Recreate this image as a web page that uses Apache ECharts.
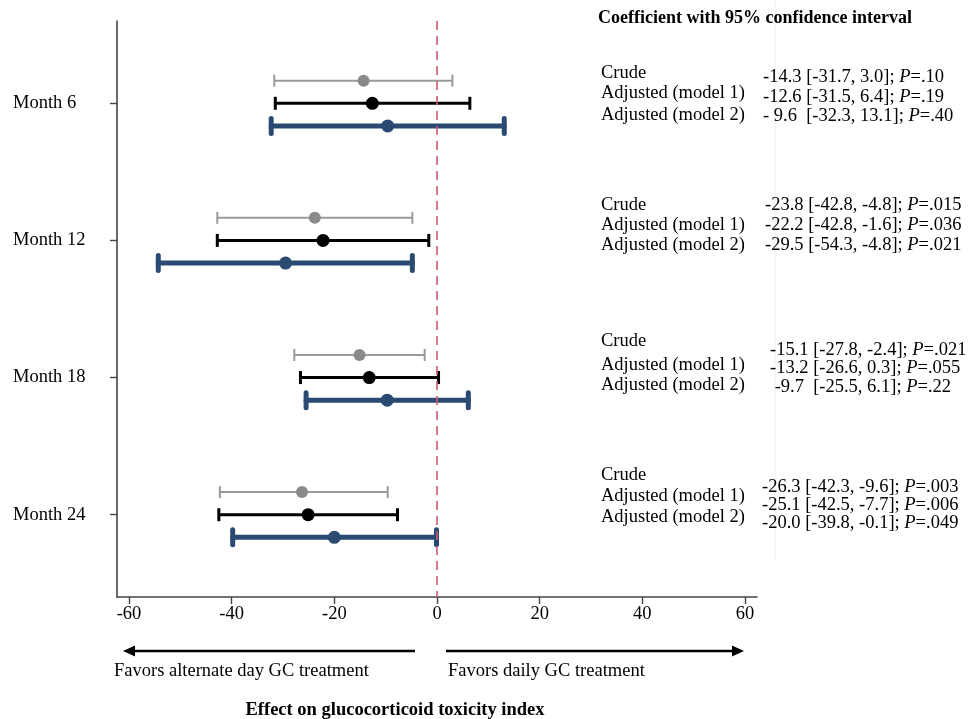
<!DOCTYPE html>
<html><head><meta charset="utf-8">
<script src="https://cdn.jsdelivr.net/npm/echarts@6/dist/echarts.min.js"></script>
<style>html,body{margin:0;padding:0;background:#fff}#c{width:974px;height:719px}</style>
</head><body><div id="c"></div>
<script>
// ---- data ----
const months = ['Month 6', 'Month 12', 'Month 18', 'Month 24'];
const models = ['Crude', 'Adjusted (model 1)', 'Adjusted (model 2)'];
const xTicks = [-60, -40, -20, 0, 20, 40, 60];
const crudeCoef = [-14.3, -23.8, -15.1, -26.3];
const crudeLo   = [-31.7, -42.8, -27.8, -42.3];
const crudeHi   = [3.0, -4.8, -2.4, -9.6];
const crudeP    = ['.10', '.015', '.021', '.003'];
const m1Coef = [-12.6, -22.2, -13.2, -25.1];
const m1Lo   = [-31.5, -42.8, -26.6, -42.5];
const m1Hi   = [6.4, -1.6, 0.3, -7.7];
const m1P    = ['.19', '.036', '.055', '.006'];
const m2Coef = [-9.6, -29.5, -9.7, -20.0];
const m2Lo   = [-32.3, -54.3, -25.5, -39.8];
const m2Hi   = [13.1, -4.8, 6.1, -0.1];
const m2P    = ['.40', '.021', '.22', '.049'];
const headerText = 'Coefficient with 95% confidence interval';
const leftArrowText = 'Favors alternate day GC treatment';
const rightArrowText = 'Favors daily GC treatment';
const xTitle = 'Effect on glucocorticoid toxicity index';

// ---- layout / style (not data) ----
const FONT = '"Liberation Serif", "Times New Roman", serif';
const FS = 18.5;
const styles = [
  {line: '#9a9a9a', dot: '#8a8a8a', lw: 2, capW: 2, cap: 12, size: 12, off: -0.165},
  {line: '#000000', dot: '#000000', lw: 3, capW: 3, cap: 13, size: 13, off: 0},
  {line: '#2a4a72', dot: '#2a4a72', lw: 5, capW: 5, cap: 15, size: 13, off: 0.165}
];
const labelY = [[73, 93, 115], [205, 225.5, 245.5], [341.5, 365, 385.5], [475, 496.5, 517.5]];
const valueY = [[77.5, 97.5, 116.5], [205, 225.5, 245.5], [350, 368.5, 387.5], [487.5, 505.5, 523.5]];
const valueX = [763, 765, 770, 762];
const labelX = 601;

const groups = [
  {coef: crudeCoef, lo: crudeLo, hi: crudeHi, p: crudeP},
  {coef: m1Coef, lo: m1Lo, hi: m1Hi, p: m1P},
  {coef: m2Coef, lo: m2Lo, hi: m2Hi, p: m2P}
];

function fmt(v) { return v.toFixed(1); }

const series = [];
groups.forEach((g, m) => {
  const st = styles[m];
  series.push({
    type: 'custom',
    name: models[m] + ' CI',
    silent: true,
    z: 2,
    data: months.map((_, i) => [g.lo[i], g.hi[i], g.coef[i], i + st.off]),
    encode: {x: [0, 1], y: 3},
    renderItem: (params, api) => {
      const y = api.value(3);
      const a = api.coord([api.value(0), y]);
      const b = api.coord([api.value(1), y]);
      const h = st.cap / 2;
      const s = {stroke: st.line, lineWidth: st.lw, lineCap: m === 2 ? 'round' : 'butt'};
      const c = {stroke: st.line, lineWidth: st.capW, lineCap: m === 2 ? 'round' : 'butt'};
      return {type: 'group', children: [
        {type: 'line', shape: {x1: a[0], y1: a[1], x2: b[0], y2: b[1]}, style: s},
        {type: 'line', shape: {x1: a[0], y1: a[1] - h, x2: a[0], y2: a[1] + h}, style: c},
        {type: 'line', shape: {x1: b[0], y1: b[1] - h, x2: b[0], y2: b[1] + h}, style: c}
      ]};
    }
  });
  series.push({
    type: 'scatter',
    name: models[m],
    silent: true,
    z: 3,
    symbol: 'circle',
    symbolSize: st.size,
    itemStyle: {color: st.dot, opacity: 1},
    data: months.map((_, i) => [g.coef[i], i + st.off])
  });
});
// reference line at 0
series.push({
  type: 'line', data: [], silent: true,
  markLine: {
    silent: true, symbol: 'none', label: {show: false},
    lineStyle: {color: '#cc5a70', width: 1.6, type: [9, 6]},
    data: [{xAxis: 0}]
  }
});

// ---- text graphics ----
const graphics = [];
graphics.push({type: 'line', shape: {x1: 775, y1: 0, x2: 775, y2: 560}, style: {stroke: '#ececec', lineWidth: 1}, silent: true});
graphics.push({type: 'text', x: 598, y: 18, style: {text: headerText, font: 'bold 18px ' + FONT, fill: '#000', textVerticalAlign: 'middle'}});
months.forEach((mo, i) => {
  models.forEach((md, m) => {
    const g = groups[m];
    graphics.push({type: 'text', x: labelX, y: labelY[i][m], style: {text: md, font: FS + 'px ' + FONT, fill: '#000', textVerticalAlign: 'middle'}});
    const c = g.coef[i];
    const cs = Math.abs(c) < 10 ? (i === 0 ? '- ' + fmt(-c) + ' ' : ' ' + fmt(c) + ' ') : fmt(c);
    graphics.push({type: 'text', x: valueX[i], y: valueY[i][m], style: {
      text: cs + ' [' + fmt(g.lo[i]) + ', ' + fmt(g.hi[i]) + ']; {i|P}=' + g.p[i],
      font: FS + 'px ' + FONT, fill: '#000', textVerticalAlign: 'middle',
      rich: {i: {fontStyle: 'italic', fontFamily: FONT, fontSize: FS, fill: '#000'}}
    }});
  });
});
// arrows
const AY = 651;
graphics.push({type: 'line', shape: {x1: 415, y1: AY, x2: 132, y2: AY}, style: {stroke: '#000', lineWidth: 2.6}});
graphics.push({type: 'polygon', shape: {points: [[123, AY], [135, AY - 5.5], [135, AY + 5.5]]}, style: {fill: '#000'}});
graphics.push({type: 'line', shape: {x1: 446, y1: AY, x2: 735, y2: AY}, style: {stroke: '#000', lineWidth: 2.6}});
graphics.push({type: 'polygon', shape: {points: [[744, AY], [732, AY - 5.5], [732, AY + 5.5]]}, style: {fill: '#000'}});
graphics.push({type: 'text', x: 114, y: 671, style: {text: leftArrowText, font: FS + 'px ' + FONT, fill: '#000', textVerticalAlign: 'middle'}});
graphics.push({type: 'text', x: 448, y: 671, style: {text: rightArrowText, font: FS + 'px ' + FONT, fill: '#000', textVerticalAlign: 'middle'}});
graphics.push({type: 'text', x: 395, y: 710, style: {text: xTitle, font: 'bold ' + FS + 'px ' + FONT, fill: '#000', textAlign: 'center', textVerticalAlign: 'middle'}});

const chart = echarts.init(document.getElementById('c'), null, {renderer: 'canvas'});
chart.setOption({
  animation: false,
  backgroundColor: '#fff',
  grid: {left: 117, right: 217, top: 21, bottom: 122, containLabel: false},
  xAxis: {
    type: 'value', min: -62.34, max: 62.34,
    axisLine: {show: true, onZero: false, lineStyle: {color: '#444', width: 1.6}},
    axisTick: {show: true, length: 7, customValues: xTicks, lineStyle: {color: '#444', width: 1.4}},
    axisLabel: {customValues: xTicks, margin: 8, color: '#000', fontFamily: FONT, fontSize: FS,
      formatter: v => String(v)},
    splitLine: {show: false}
  },
  yAxis: {
    type: 'value', inverse: true, min: -0.6, max: 3.6,
    axisLine: {show: true, onZero: false, lineStyle: {color: '#444', width: 1.6}},
    axisTick: {show: true, length: 7, customValues: [0, 1, 2, 3], lineStyle: {color: '#444', width: 1.4}},
    axisLabel: {customValues: [0, 1, 2, 3], align: 'left', margin: 104, color: '#000', fontFamily: FONT, fontSize: FS,
      formatter: v => months[Math.round(v)]},
    splitLine: {show: false}
  },
  series: series,
  graphic: graphics
});
</script>
</body></html>
